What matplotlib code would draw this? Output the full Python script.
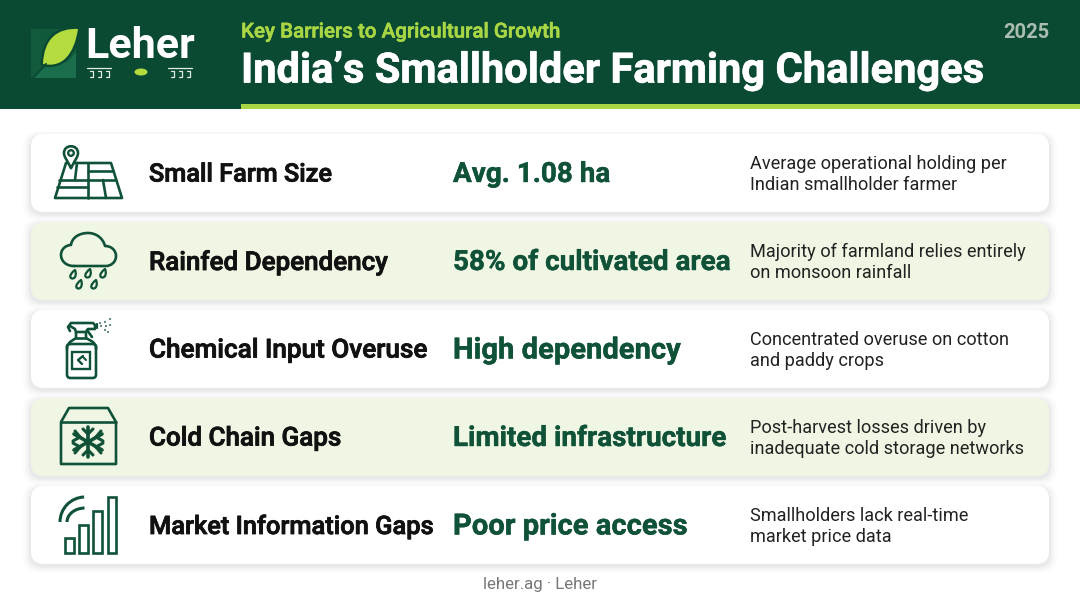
import matplotlib
matplotlib.use("Agg")
import matplotlib.pyplot as plt
from matplotlib.patches import FancyBboxPatch, Rectangle, Polygon, Circle, Ellipse, PathPatch, Arc
from matplotlib.path import Path
import matplotlib.patheffects as pe

plt.rcParams['font.family'] = ['Roboto', 'DejaVu Sans']

# data
labels = ["Small Farm Size", "Rainfed Dependency", "Chemical Input Overuse", "Cold Chain Gaps", "Market Information Gaps"]
values = ["Avg. 1.08 ha", "58% of cultivated area", "High dependency", "Limited infrastructure", "Poor price access"]
notes = [
    ["Average operational holding per", "Indian smallholder farmer"],
    ["Majority of farmland relies entirely", "on monsoon rainfall"],
    ["Concentrated overuse on cotton", "and paddy crops"],
    ["Post-harvest losses driven by", "inadequate cold storage networks"],
    ["Smallholders lack real-time", "market price data"],
]
kicker = "Key Barriers to Agricultural Growth"
title = "India\u2019s Smallholder Farming Challenges"
year = "2025"
footer = "leher.ag \u00b7 Leher"

# the text widths differ a bit row by row in the original
label_sizes = [18.2, 18.7, 18.8, 18.7, 18.3]
value_sizes = [20.05, 20.05, 21, 20.05, 21]

DARK = "#0b4a32"
INK = "#0f5238"
LIME = "#a9d645"
TINT = "#eff6e3"

fig = plt.figure(figsize=(10.8, 6.03), dpi=100, facecolor="white")
ax = fig.add_axes([0, 0, 1, 1])
ax.set_xlim(0, 1080)
ax.set_ylim(603, 0)
ax.axis("off")

M, C = Path.MOVETO, Path.CURVE4


def line(xs, ys, lw=1.9, color=INK):
    ax.plot(xs, ys, color=color, lw=lw, solid_capstyle="round", solid_joinstyle="round", zorder=5)


def curve(verts, codes, lw=1.9, fc="none", ec=INK, z=5):
    ax.add_patch(PathPatch(Path(verts, codes), fc=fc, ec=ec, lw=lw, zorder=z, joinstyle="round", capstyle="round"))


def drop(x, y):
    verts = [(x + 2, y - 5), (x + 3.5, y - 2), (x + 3, y + 3.5), (x - 0.5, y + 3.5), (x - 4, y + 3.5), (x - 3.5, y - 1), (x + 2, y - 5), (x + 2, y - 5)]
    curve(verts, [M, C, C, C, C, C, C, Path.CLOSEPOLY], lw=1.6)


# header
ax.add_patch(Rectangle((0, 0), 1080, 109, fc=DARK, ec="none", zorder=1))
ax.add_patch(Rectangle((241, 104), 839, 5, fc=LIME, ec="none", zorder=2))

# logo
ax.add_patch(Rectangle((31, 29), 45, 49, fc="#125a3c", ec="none", zorder=2))
ax.add_patch(Polygon([(31, 78), (46, 66), (67, 62), (76, 52), (76, 78)], fc="#1a6e4c", ec="none", zorder=2))
leaf = [(78, 29), (58, 28), (44, 38), (43, 64), (62, 68), (74, 55), (78, 29)]
curve(leaf, [M, C, C, C, C, C, C], lw=3.5, fc="none", ec=DARK, z=2.5)
ax.add_patch(Polygon([(62, 29), (78, 29), (78, 40)], fc=DARK, ec="none", zorder=2.4))
curve(leaf, [M, C, C, C, C, C, C], lw=0, fc="#b5dc3f", ec="none", z=3)
line([32, 46], [79, 64], lw=1.5, color=DARK)
ax.text(85, 46, "Leher", color="white", fontsize=31, fontweight="bold", va="center", ha="left", zorder=4)
ax.add_patch(Ellipse((141, 72), 13, 7, fc="#b5dc3f", ec="none", zorder=4))
for x0 in (87, 168):
    line([x0, x0 + 24], [68, 68], lw=0.9, color="#dfeee0")
    for dx in (3, 11, 19):
        line([x0 + dx, x0 + dx + 3, x0 + dx + 3, x0 + dx], [71, 71, 77, 77], lw=0.9, color="#dfeee0")

ax.text(241, 32, kicker, color=LIME, fontsize=14.8, fontweight="medium", va="center", ha="left", zorder=4,
        path_effects=[pe.withStroke(linewidth=0.4, foreground=LIME)])
ax.text(241, 71, title, color="white", fontsize=30, fontweight="bold", va="center", ha="left", zorder=4,
        path_effects=[pe.withStroke(linewidth=0.5, foreground="white")])
ax.text(1049, 32, year, color="#a9bdb0", fontsize=14.5, fontweight="bold", va="center", ha="right", zorder=4)

# cards
for i in range(len(labels)):
    top = 134 + i * 88
    fc = TINT if i % 2 else "white"
    for grow, alpha in ((8, 0.012), (6, 0.018), (4, 0.028), (2, 0.04)):
        ax.add_patch(FancyBboxPatch((31 - grow, top + 2 - grow * 0.6), 1018 + 2 * grow, 78 + grow * 1.4,
                                    boxstyle="round,pad=0,rounding_size=14", fc="#20352a", ec="none", alpha=alpha, zorder=1))
    ax.add_patch(FancyBboxPatch((31, top), 1018, 78, boxstyle="round,pad=0,rounding_size=13", fc=fc, ec="none", zorder=2))
    mid = top + 39
    ax.text(149, mid + 1.5, labels[i], color="#111111", fontsize=label_sizes[i], fontweight="medium", va="center", ha="left", zorder=4,
            path_effects=[pe.withStroke(linewidth=0.6, foreground="#111111")])
    ax.text(453, mid + 1.5, values[i], color=INK, fontsize=value_sizes[i], fontweight="bold", va="center", ha="left", zorder=4,
            path_effects=[pe.withStroke(linewidth=0.3, foreground=INK)])
    ax.text(749.5, mid - 9, notes[i][0], color="#222222", fontsize=13.03, va="center", ha="left", zorder=4)
    ax.text(749.5, mid + 12.5, notes[i][1], color="#222222", fontsize=13.03, va="center", ha="left", zorder=4)

# icon 1: map and pin
ax.add_patch(Polygon([(66, 163), (111, 163), (122, 198), (55, 198)], fc="none", ec=INK, lw=1.9, joinstyle="round", zorder=5))
line([88, 88], [163, 198])
line([59, 88], [180, 180])
line([57, 88], [187, 187])
line([88, 113], [171, 171])
line([88, 116], [180, 180])
line([103, 106], [180, 198])
line([77, 75], [163, 180])
curve([(71, 168), (67, 160), (64, 157), (64, 153), (64, 144), (78, 144), (78, 153), (78, 157), (75, 160), (71, 168)],
      [M, C, C, C, C, C, C, C, C, C], fc="white", z=5)
ax.add_patch(Circle((71, 153), 2.8, fc="none", ec=INK, lw=1.7, zorder=6))

# icon 2: cloud and rain
cv = [(74, 266), (65, 266), (61, 260), (61, 255), (61, 249), (66, 245), (71, 245), (72, 237), (80, 233), (88, 233),
      (96, 233), (103, 238), (105, 246), (112, 246), (116, 251), (116, 256), (116, 262), (111, 266), (106, 266), (74, 266)]
curve(cv, [M] + [C] * 18 + [Path.LINETO])
for dx, dy in ((73, 275), (88, 274), (103, 274), (79, 285), (94, 285)):
    drop(dx, dy)

# icon 3: spray bottle
line([76, 76, 70, 67, 67], [332, 338, 342, 346, 349])
line([86, 86, 93, 96, 96], [332, 338, 342, 346, 349])
line([76, 86], [338, 338])
ax.add_patch(FancyBboxPatch((67, 344), 29, 34, boxstyle="round,pad=0,rounding_size=3.5", fc="none", ec=INK, lw=1.9, zorder=5))
ax.add_patch(Rectangle((72, 352), 18, 17, fc="none", ec=INK, lw=1.7, zorder=5))
line([83, 78, 82], [356, 360, 364], lw=1.7)
line([83, 86], [357, 360], lw=1.5)
line([70, 68, 71, 93, 95, 95, 88, 86, 76, 75, 70], [331, 327, 323, 323, 325, 329, 329, 332, 332, 329, 326])
line([87, 92], [330, 337])
line([97, 97], [324, 328], lw=1.6)
for sx, sy in ((100, 323), (105, 322), (110, 319), (101, 326), (106, 326), (110, 325), (105, 330), (108, 332)):
    ax.add_patch(Circle((sx, sy), 0.9, fc=INK, ec="none", zorder=5))

# icon 4: box and snowflake
ax.add_patch(Polygon([(61, 422), (69, 408), (108, 408), (116, 422), (116, 464), (61, 464)], fc="none", ec=INK, lw=1.9, joinstyle="round", zorder=5))
line([61, 116], [422, 422])
cx, cy = 88, 442
for x1, y1, x2, y2 in ((cx, cy - 15, cx, cy + 15), (cx - 14, cy - 8, cx + 14, cy + 8), (cx - 14, cy + 8, cx + 14, cy - 8)):
    line([x1, x2], [y1, y2], lw=2.6)
for x1, y1, x2, y2 in (
    (cx - 5, cy - 13, cx, cy - 8), (cx + 5, cy - 13, cx, cy - 8), (cx - 5, cy + 13, cx, cy + 8), (cx + 5, cy + 13, cx, cy + 8),
    (cx - 15, cy - 1, cx - 8, cy - 5), (cx - 13, cy - 11, cx - 8, cy - 5), (cx + 15, cy - 1, cx + 8, cy - 5), (cx + 13, cy - 11, cx + 8, cy - 5),
    (cx - 15, cy + 1, cx - 8, cy + 5), (cx - 13, cy + 11, cx - 8, cy + 5), (cx + 15, cy + 1, cx + 8, cy + 5), (cx + 13, cy + 11, cx + 8, cy + 5),
):
    line([x1, x2], [y1, y2], lw=2.2)

# icon 5: signal bars
for bx, by, bw in ((65, 538, 8.5), (79, 525, 8.5), (93, 511, 8.5), (107.5, 497, 8.5)):
    ax.add_patch(Rectangle((bx, by), bw, 552.5 - by, fc="none", ec=INK, lw=1.9, zorder=5))
ax.add_patch(Arc((85, 522), 50, 50, theta1=180, theta2=268, ec=INK, lw=2.2, zorder=5))
ax.add_patch(Arc((85, 522), 36, 28, theta1=180, theta2=268, ec=INK, lw=2.2, zorder=5))

ax.text(540, 585, footer, color="#777777", fontsize=12.2, va="center", ha="center", zorder=4)

fig.savefig("out.png", dpi=100, facecolor="white")
